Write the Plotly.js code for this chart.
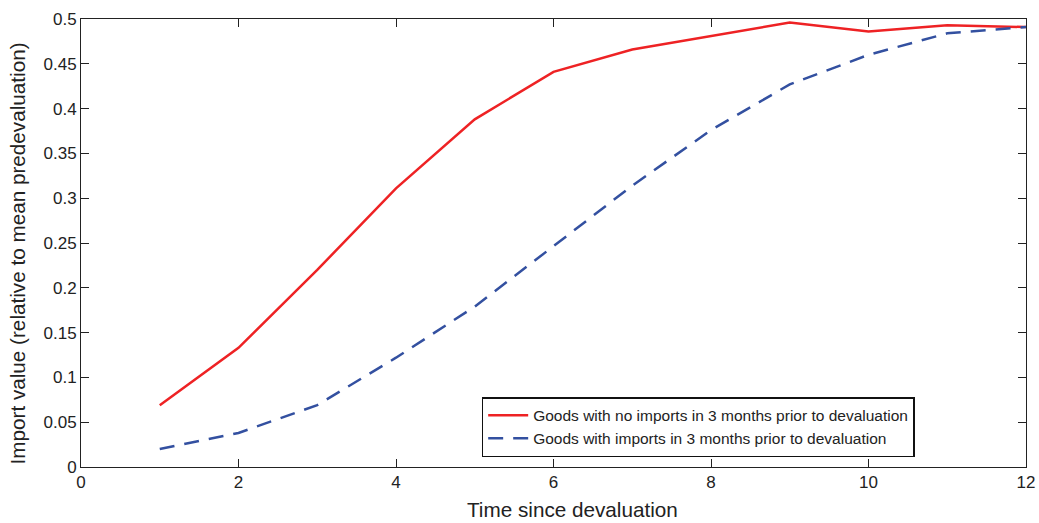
<!DOCTYPE html>
<html>
<head>
<meta charset="utf-8">
<script src="https://cdn.plot.ly/plotly-3.0.1.min.js"></script>
<style>
  html, body { margin: 0; padding: 0; background: #fff; }
  #chart { width: 1039px; height: 523px; }
</style>
</head>
<body>
<div id="chart"></div>
<script>
// Months since the devaluation
const months = [1, 2, 3, 4, 5, 6, 7, 8, 9, 10, 11, 12];

// Import value relative to the mean predevaluation level
const noPriorImports = [0.069, 0.133, 0.220, 0.311, 0.388, 0.441, 0.466, 0.481, 0.496, 0.486, 0.493, 0.491];
const withPriorImports = [0.020, 0.038, 0.069, 0.122, 0.179, 0.247, 0.314, 0.376, 0.427, 0.460, 0.484, 0.491];

const seriesNames = [
  'Goods with no imports in 3 months prior to devaluation',
  'Goods with imports in 3 months prior to devaluation'
];

const xTitle = 'Time since devaluation';
const yTitle = 'Import value (relative to mean predevaluation)';

const xTicks = [0, 2, 4, 6, 8, 10, 12];
const yTicks = [0, 0.05, 0.1, 0.15, 0.2, 0.25, 0.3, 0.35, 0.4, 0.45, 0.5];
const yTickText = ['0', '0.05', '0.1', '0.15', '0.2', '0.25', '0.3', '0.35', '0.4', '0.45', '0.5'];

const FONT = 'Liberation Sans, Arial, Helvetica, sans-serif';

const traces = [
  {
    x: months, y: noPriorImports, name: seriesNames[0],
    type: 'scatter', mode: 'lines',
    line: { color: '#ee2224', width: 2.5 }
  },
  {
    x: months, y: withPriorImports, name: seriesNames[1],
    type: 'scatter', mode: 'lines',
    line: { color: '#3350a0', width: 2.5, dash: '15px,10px' }
  }
];

const axisCommon = {
  showgrid: false, zeroline: false,
  showline: true, linecolor: '#222', linewidth: 1,
  mirror: 'ticks', ticks: 'inside', ticklen: 8, tickcolor: '#222', tickwidth: 1,
  tickfont: { family: FONT, size: 17, color: '#222' }
};

const layout = {
  width: 1039, height: 523,
  margin: { l: 81, r: 13, t: 19, b: 56 },
  paper_bgcolor: '#fff', plot_bgcolor: '#fff',
  showlegend: true,
  legend: {
    x: 0.424, y: 0.156, xanchor: 'left', yanchor: 'top',
    bordercolor: '#111', borderwidth: 1.5, bgcolor: '#fff',
    font: { family: FONT, size: 15.5, color: '#222' },
    tracegroupgap: 0, itemwidth: 40
  },
  xaxis: Object.assign({}, axisCommon, {
    range: [0, 12], tickvals: xTicks, ticktext: xTicks.map(String)
  }),
  yaxis: Object.assign({}, axisCommon, {
    range: [0, 0.5], tickvals: yTicks, ticktext: yTickText
  }),
  // Axis titles, placed as annotations so they can sit slightly off-centre
  annotations: [
    {
      text: xTitle, xref: 'paper', yref: 'paper',
      x: 0.5206, y: -0.0949, xanchor: 'center', yanchor: 'middle', borderpad: 0,
      showarrow: false, font: { family: FONT, size: 20.7, color: '#222' }
    },
    {
      text: yTitle, xref: 'paper', yref: 'paper', textangle: -90,
      x: -0.0672, y: 0.4777, xanchor: 'center', yanchor: 'middle', borderpad: 0,
      showarrow: false, font: { family: FONT, size: 20.7, color: '#222' }
    }
  ]
};

Plotly.newPlot('chart', traces, layout, { displayModeBar: false, staticPlot: true });
</script>
</body>
</html>
